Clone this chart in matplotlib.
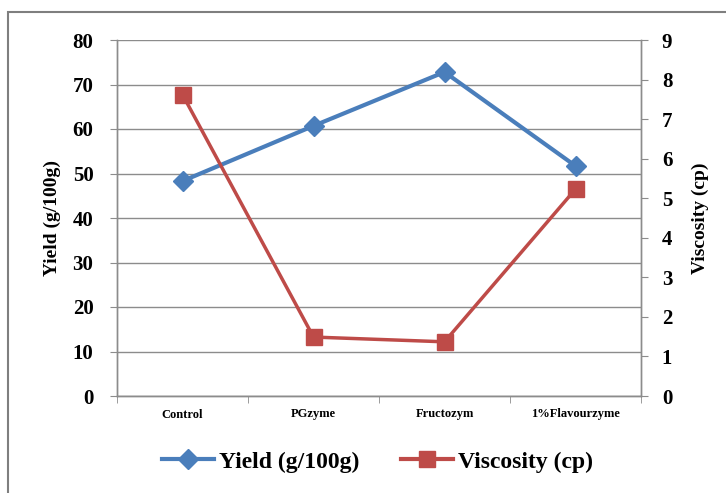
import matplotlib.pyplot as plt
from matplotlib.patches import Rectangle
from matplotlib.lines import Line2D
import numpy as np

# data
treatments = ['Control', 'PGzyme', 'Fructozym', '1%Flavourzyme']
yield_vals = [48.3, 60.7, 72.8, 51.7]
viscosity_vals = [7.62, 1.49, 1.37, 5.23]

blue = '#4A7EBB'
red = '#BE4B48'
grey = '#8C8C8C'
serif = ['Liberation Serif', 'DejaVu Serif']

fig = plt.figure(figsize=(7.26, 4.93), dpi=100)
fig.patch.set_facecolor('white')

# outer chart border (only left and top visible in the reference)
fig.patches.append(Rectangle((8 / 726, -0.05), 1.2, 1 - 12 / 493 + 0.05,
                             transform=fig.transFigure, fill=False,
                             edgecolor='#7F7F7F', linewidth=1.5))

ax = fig.add_axes([117 / 726, 1 - 396 / 493, (641 - 117) / 726, (396 - 40) / 493])
ax2 = ax.twinx()

x = np.arange(len(treatments))

ax.plot(x, yield_vals, color=blue, linewidth=3, marker='D', markersize=10,
        markerfacecolor=blue, markeredgecolor=blue, zorder=3)
ax2.plot(x, viscosity_vals, color=red, linewidth=2.5, marker='s', markersize=12,
         markerfacecolor=red, markeredgecolor=red, zorder=3)

ax.set_xlim(-0.5, 3.5)
ax.set_ylim(0, 80)
ax.set_yticks(range(0, 81, 10))
ax2.set_ylim(0, 9)
ax2.set_yticks(range(0, 10))

ax.set_xticks(x)
ax.set_xticklabels(treatments, fontsize=9, fontweight='bold', family=serif)
ax.set_xticks(np.arange(-0.5, 3.6, 1), minor=True)
ax.tick_params(axis='x', which='major', length=0, pad=9)
ax.tick_params(axis='x', which='minor', length=5, color=grey, direction='out')

ax.tick_params(axis='y', length=5, color=grey, direction='out', labelsize=15, pad=12)
ax2.tick_params(axis='y', length=5, color=grey, direction='out', labelsize=15, pad=10)
for lab in ax.get_yticklabels() + ax2.get_yticklabels():
    lab.set_fontweight('bold')
    lab.set_family(serif)

ax.grid(axis='y', color=grey, linewidth=1)
ax.set_axisbelow(True)

for a in (ax, ax2):
    a.spines['top'].set_visible(False)
    for s in ('left', 'right', 'bottom'):
        a.spines[s].set_color(grey)
        a.spines[s].set_linewidth(1)

ax.set_ylabel('Yield (g/100g)', fontsize=14, fontweight='bold', family=serif, labelpad=8)
ax2.set_ylabel('Viscosity (cp)', fontsize=14, fontweight='bold', family=serif, labelpad=14)

handles = [Line2D([0], [0], color=blue, linewidth=3, marker='D', markersize=10),
           Line2D([0], [0], color=red, linewidth=3, marker='s', markersize=12)]
fig.legend(handles, ['Yield (g/100g)', 'Viscosity (cp)'], loc='center',
           bbox_to_anchor=(0.52, 1 - 462 / 493), ncol=2, frameon=False,
           prop={'family': serif, 'weight': 'bold', 'size': 17},
           handlelength=2.2, columnspacing=1.8, handletextpad=0.2)

fig.savefig('out.png', dpi=100, facecolor='white')
